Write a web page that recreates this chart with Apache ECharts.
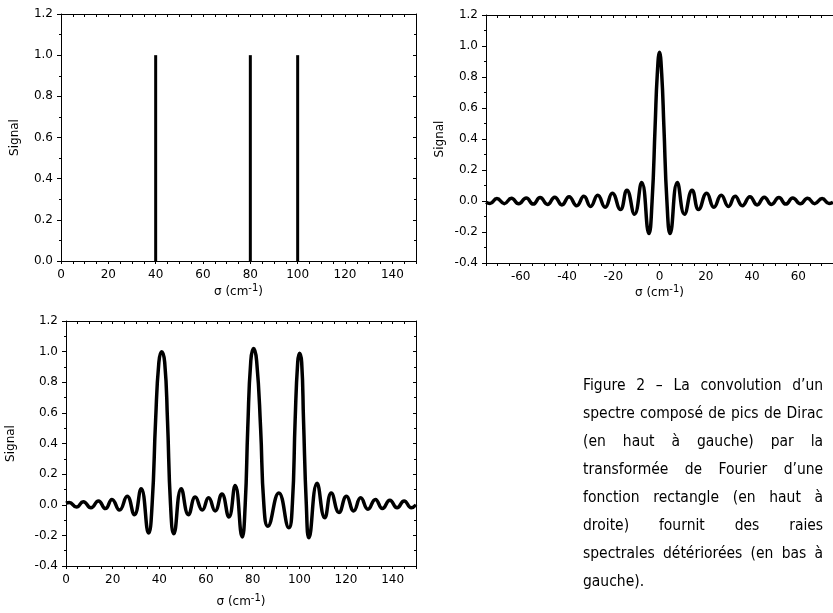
<!DOCTYPE html>
<html>
<head>
<meta charset="utf-8">
<script src="https://cdn.jsdelivr.net/npm/echarts@6/dist/echarts.min.js"></script>
<style>
  html, body { margin: 0; padding: 0; background: #fff; }
  #chart { width: 833px; height: 613px; }
  #caption {
    position: absolute; left: 583px; top: 371px; width: 276px;
    transform: scaleX(0.87); transform-origin: 0 0;
    font-family: "DejaVu Sans", sans-serif; font-size: 16px; line-height: 28px; color: #000;
  }
  #caption div { text-align: justify; text-align-last: justify; white-space: nowrap; }
  #caption div.last { text-align-last: left; }
</style>
</head>
<body>
<div id="chart"></div>
<div id="caption">
  <div>Figure 2 – La convolution d’un</div>
  <div>spectre composé de pics de Dirac</div>
  <div>(en haut à gauche) par la</div>
  <div>transformée de Fourier d’une</div>
  <div>fonction rectangle (en haut à</div>
  <div>droite) fournit des raies</div>
  <div>spectrales détériorées (en bas à</div>
  <div class="last">gauche).</div>
</div>
<script>
// pics de Dirac (en haut a gauche)
var diracX = [40, 80, 100];
var diracY = [1.0, 1.0, 1.0];

// TF de la fonction rectangle (en haut a droite)
var sincX = [-75, -73.3, -70.3, -67.1, -64.0, -60.9, -57.6, -54.6, -51.6, -48.4, -45.3, -42.2,
  -39.1, -35.8, -32.7, -29.8, -26.7, -23.5, -20.4, -16.9, -14.1, -10.8, -7.7, -4.6,
  -3.2, -1.9, -0.95, 0, 0.95, 1.9, 3.2,
  4.6, 7.7, 10.8, 14.1, 16.9, 20.4, 23.5, 26.7, 29.8, 32.7, 35.8, 39.1,
  42.2, 45.3, 48.4, 51.6, 54.6, 57.6, 60.9, 64.0, 67.1, 70.3, 73.3, 75];
var sincY = [-0.008, -0.016, 0.016, -0.017, 0.018, -0.018, 0.02, -0.02, 0.022, -0.022, 0.025, -0.025,
  0.028, -0.03, 0.03, -0.035, 0.037, -0.04, 0.05, -0.055, 0.07, -0.085, 0.12, -0.21,
  0, 0.48, 0.82, 0.96, 0.82, 0.48, 0,
  -0.21, 0.12, -0.085, 0.07, -0.055, 0.05, -0.04, 0.037, -0.035, 0.03, -0.03, 0.028,
  -0.025, 0.025, -0.022, 0.022, -0.02, 0.02, -0.018, 0.018, -0.017, 0.016, -0.016, -0.008];

// spectre convolue (en bas a gauche)
var convX = [0, 1.4, 4.5, 7.4, 10.7, 13.9, 16.9, 19.7, 22.9, 26.2, 29.3, 32.2, 35.4,
  36.9, 38.4, 39.8, 41.0, 42.3, 43.5, 44.8, 46.2,
  49.4, 52.5, 55.4, 58.4, 61.1, 63.9, 66.8, 69.8, 72.5, 75.5,
  76.8, 77.9, 79.2, 80.4, 81.7, 83.4, 84.8, 86.5,
  91.2, 95.5, 97.0, 98.2, 99.3, 100.1, 101.0, 101.8, 103.0, 104.1,
  107.6, 110.9, 113.7, 117.0, 120.2, 123.3, 126.3, 129.4, 132.6, 135.6, 138.8, 141.9, 144.9, 148.0, 150];
var convY = [0.01, 0.015, -0.015, 0.02, -0.02, 0.025, -0.025, 0.035, -0.035, 0.055, -0.065, 0.105, -0.185,
  0, 0.55, 0.93, 1.0, 0.93, 0.55, 0, -0.19,
  0.105, -0.065, 0.05, -0.035, 0.045, -0.04, 0.07, -0.08, 0.125, -0.21,
  0, 0.5, 0.94, 1.02, 0.94, 0.5, 0, -0.14,
  0.077, -0.15, 0, 0.55, 0.93, 0.99, 0.93, 0.55, 0, -0.215,
  0.14, -0.085, 0.077, -0.05, 0.055, -0.04, 0.045, -0.03, 0.035, -0.025, 0.03, -0.02, 0.025, -0.02, 0];

// graduations
var xLabels150 = [0, 20, 40, 60, 80, 100, 120, 140];
var xLabelsSym = [-60, -40, -20, 0, 20, 40, 60];

function range(a, b, step) {
  var out = [];
  for (var v = a; v <= b + 1e-9; v += step) out.push(+v.toFixed(4));
  return out;
}

function pairs(xs, ys) {
  return xs.map(function (x, i) { return [x, ys[i]]; });
}

var font = 'DejaVu Sans';
var nameRich = {
  a: { fontFamily: font, fontSize: 12, color: '#000' },
  s: { fontFamily: font, fontSize: 10, color: '#000', padding: [0, 0, 7, 0] }
};
var blackLine = { show: true, onZero: false, lineStyle: { color: '#000', width: 1 } };

function xAxisFor(grid, min, max, labels, gap) {
  return [{
    gridIndex: grid, type: 'value', min: min, max: max,
    name: '{a|σ (cm}{s|-1}{a|)}', nameLocation: 'middle', nameGap: gap,
    nameTextStyle: { rich: nameRich },
    axisLine: blackLine,
    axisTick: { customValues: range(min, max, 5), length: 3, lineStyle: { color: '#000' } },
    axisLabel: { customValues: labels, color: '#000', fontFamily: font, fontSize: 12, margin: 8 },
    splitLine: { show: false }
  }, {
    gridIndex: grid, type: 'value', min: min, max: max, position: 'top',
    axisLine: blackLine,
    axisTick: { customValues: range(min, max, 5), inside: true, length: 3, lineStyle: { color: '#000' } },
    axisLabel: { show: false },
    splitLine: { show: false }
  }];
}

function yAxisFor(grid, min, gap, withRight) {
  return [{
    gridIndex: grid, type: 'value', min: min, max: 1.2, interval: 0.2,
    name: 'Signal', nameLocation: 'middle', nameGap: gap,
    nameTextStyle: { fontFamily: font, fontSize: 12, color: '#000' },
    axisLine: blackLine,
    axisTick: { show: true, length: 4, lineStyle: { color: '#000' } },
    minorTick: { show: true, splitNumber: 2, length: 2, lineStyle: { color: '#000' } },
    axisLabel: { color: '#000', fontFamily: font, fontSize: 12, margin: 8,
      formatter: function (v) { return v.toFixed(1); } },
    splitLine: { show: false }
  }, {
    gridIndex: grid, type: 'value', min: min, max: 1.2, interval: 0.2, position: 'right',
    show: withRight,
    axisLine: blackLine,
    axisTick: { show: true, inside: true, length: 3, lineStyle: { color: '#000' } },
    minorTick: { show: true, splitNumber: 2, length: 2, lineStyle: { color: '#000' } },
    axisLabel: { show: false },
    splitLine: { show: false }
  }];
}

var chart = echarts.init(document.getElementById('chart'));
var option = {
  animation: false,
  backgroundColor: '#fff',
  grid: [
    { left: 61, top: 14, width: 355, height: 247 },
    { left: 486, top: 15, width: 356, height: 248 },
    { left: 66, top: 321, width: 350, height: 245 }
  ],
  xAxis: [].concat(
    xAxisFor(0, 0, 150, xLabels150, 22),
    xAxisFor(1, -75, 75, xLabelsSym, 21),
    xAxisFor(2, 0, 150, xLabels150, 27)
  ),
  yAxis: [].concat(
    yAxisFor(0, 0, 40, true),
    yAxisFor(1, -0.4, 40, false),
    yAxisFor(2, -0.4, 49, true)
  ),
  series: [
    {
      type: 'bar', xAxisIndex: 0, yAxisIndex: 0, barWidth: 3,
      itemStyle: { color: '#000' },
      data: pairs(diracX, diracY)
    },
    {
      type: 'line', xAxisIndex: 2, yAxisIndex: 2, smooth: 0.5, showSymbol: false,
      lineStyle: { color: '#000', width: 3.5 },
      data: pairs(sincX, sincY)
    },
    {
      type: 'line', xAxisIndex: 4, yAxisIndex: 4, smooth: 0.5, showSymbol: false,
      lineStyle: { color: '#000', width: 3.5 },
      data: pairs(convX, convY)
    }
  ]
};
chart.setOption(option);
</script>
</body>
</html>
